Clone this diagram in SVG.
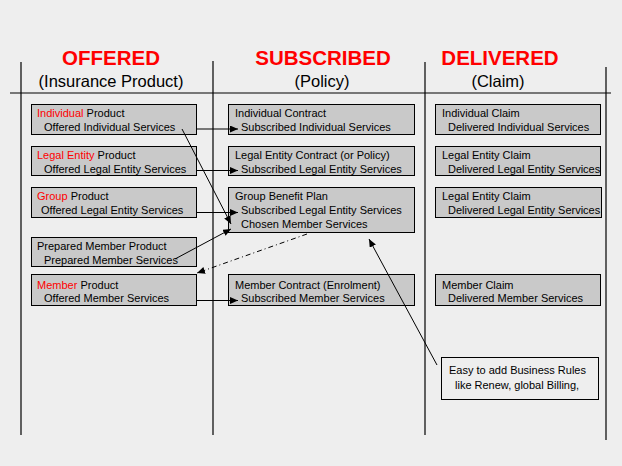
<svg xmlns="http://www.w3.org/2000/svg" width="622" height="466" viewBox="0 0 622 466">
<style>
.bg{fill:#eeeeee}
.rule{stroke:#000;stroke-width:1.2;fill:none}
.box{fill:#c9c9c9;stroke:#000;stroke-width:1}
.note{fill:#eeeeee;stroke:#000;stroke-width:1}
.t{font-family:"Liberation Sans",Arial,sans-serif;font-size:11px;fill:#000}
.r{fill:#ff0000}
.h{font-family:"Liberation Sans",Arial,sans-serif;font-size:20.5px;font-weight:bold;fill:#ff0000;text-anchor:middle}
.s{font-family:"Liberation Sans",Arial,sans-serif;font-size:16.5px;fill:#000;text-anchor:middle}
.c{stroke:#000;stroke-width:1;fill:none}
.d{stroke-dasharray:5 3 1 3}
</style>
<defs>
<marker id="ah" markerUnits="userSpaceOnUse" markerWidth="9" markerHeight="8" refX="8" refY="3.5" orient="auto">
<path d="M0,0 L8,3.5 L0,7 z" fill="#000"/>
</marker>
</defs>
<rect class="bg" x="0" y="0" width="622" height="466"/>
<g id="frame">
<line class="rule" x1="21" y1="62" x2="21" y2="435"/>
<line class="rule" x1="213" y1="61" x2="213" y2="435"/>
<line class="rule" x1="425" y1="62" x2="425" y2="435"/>
<line class="rule" x1="606" y1="67" x2="606" y2="440"/>
<line class="rule" x1="10" y1="93" x2="611" y2="93"/>
</g>
<g id="headers">
<text class="h" x="111" y="65">OFFERED</text>
<text class="s" x="111" y="87">(Insurance Product)</text>
<text class="h" x="323" y="65">SUBSCRIBED</text>
<text class="s" x="322" y="87">(Policy)</text>
<text class="h" x="500" y="65">DELIVERED</text>
<text class="s" x="498" y="87">(Claim)</text>
</g>
<g id="individual-product">
<rect class="box" x="31.5" y="104.5" width="165" height="30"/>
<text class="t" x="37" y="117"><tspan class="r">Individual</tspan> Product</text>
<text class="t" x="44" y="131">Offered Individual Services</text>
</g>
<g id="legal-entity-product">
<rect class="box" x="31.5" y="146.5" width="165" height="29"/>
<text class="t" x="37" y="159"><tspan class="r">Legal Entity</tspan> Product</text>
<text class="t" x="44" y="173">Offered Legal Entity Services</text>
</g>
<g id="group-product">
<rect class="box" x="31.5" y="187.5" width="165" height="30"/>
<text class="t" x="37" y="200"><tspan class="r">Group</tspan> Product</text>
<text class="t" x="41" y="214">Offered Legal Entity Services</text>
</g>
<g id="prepared-member-product">
<rect class="box" x="31.5" y="237.5" width="165" height="29"/>
<text class="t" x="37" y="250">Prepared Member Product</text>
<text class="t" x="44" y="264">Prepared Member Services</text>
</g>
<g id="member-product">
<rect class="box" x="31.5" y="274.5" width="165" height="31"/>
<text class="t" x="37" y="289"><tspan class="r">Member</tspan> Product</text>
<text class="t" x="44" y="302">Offered Member Services</text>
</g>
<g id="individual-contract">
<rect class="box" x="228.5" y="104.5" width="186" height="30"/>
<text class="t" x="235" y="117">Individual Contract</text>
<text class="t" x="241" y="131">Subscribed Individual Services</text>
</g>
<g id="legal-entity-contract">
<rect class="box" x="228.5" y="146.5" width="186" height="29"/>
<text class="t" x="235" y="159">Legal Entity Contract (or Policy)</text>
<text class="t" x="241" y="173">Subscribed Legal Entity Services</text>
</g>
<g id="group-benefit-plan">
<rect class="box" x="228.5" y="187.5" width="186" height="45"/>
<text class="t" x="235" y="200">Group Benefit Plan</text>
<text class="t" x="241" y="214">Subscribed Legal Entity Services</text>
<text class="t" x="241" y="228">Chosen Member Services</text>
</g>
<g id="member-contract">
<rect class="box" x="228.5" y="274.5" width="186" height="31"/>
<text class="t" x="235" y="289">Member Contract (Enrolment)</text>
<text class="t" x="241" y="302">Subscribed Member Services</text>
</g>
<g id="individual-claim">
<rect class="box" x="435.5" y="104.5" width="165" height="30"/>
<text class="t" x="442" y="117">Individual Claim</text>
<text class="t" x="448" y="131">Delivered Individual Services</text>
</g>
<g id="legal-entity-claim">
<rect class="box" x="435.5" y="146.5" width="165" height="29"/>
<text class="t" x="442" y="159">Legal Entity Claim</text>
<text class="t" x="448" y="173">Delivered Legal Entity Services</text>
</g>
<g id="legal-entity-claim-2">
<rect class="box" x="435.5" y="187.5" width="166" height="30"/>
<text class="t" x="442" y="200">Legal Entity Claim</text>
<text class="t" x="448" y="214">Delivered Legal Entity Services</text>
</g>
<g id="member-claim">
<rect class="box" x="435.5" y="274.5" width="165" height="31"/>
<text class="t" x="442" y="289">Member Claim</text>
<text class="t" x="448" y="302">Delivered Member Services</text>
</g>
<g id="business-rules-note">
<rect class="note" x="441.5" y="357.5" width="157" height="42"/>
<text class="t" x="449" y="374">Easy to add Business Rules</text>
<text class="t" x="455" y="389">like Renew, global Billing,</text>
</g>
<g id="connectors">
<line class="c" x1="196" y1="129" x2="238" y2="129" marker-end="url(#ah)"/>
<line class="c" x1="196" y1="170.5" x2="238" y2="170.5" marker-end="url(#ah)"/>
<line class="c" x1="196" y1="212.5" x2="238" y2="212.5" marker-end="url(#ah)"/>
<line class="c" x1="196" y1="300.5" x2="238" y2="300.5" marker-end="url(#ah)"/>
<line class="c" x1="182" y1="129" x2="231" y2="224" marker-end="url(#ah)"/>
<line class="c" x1="175" y1="259" x2="231" y2="229" marker-end="url(#ah)"/>
<line class="c d" x1="307" y1="234" x2="197" y2="273" marker-end="url(#ah)"/>
<line class="c" x1="437" y1="365" x2="369" y2="239" marker-end="url(#ah)"/>
</g>
</svg>
